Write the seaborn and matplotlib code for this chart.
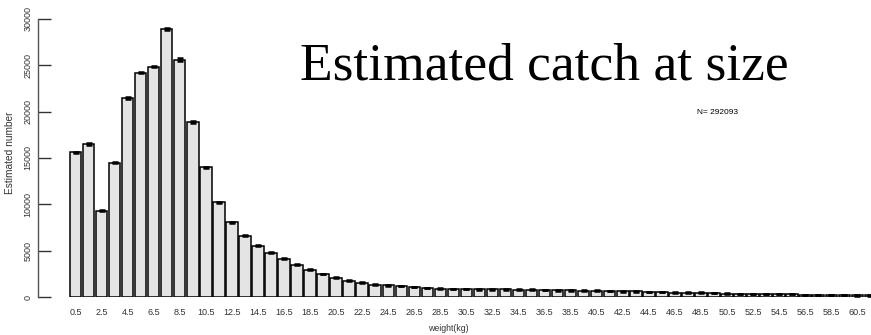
import numpy as np
import pandas as pd
import matplotlib
from matplotlib import pyplot as plt
import seaborn as sns

# bin midpoints (kg) and estimated numbers
weights = [0.5 + i for i in range(62)]
counts = [15600, 16500, 9300, 14500, 21450, 24200, 24850, 28900, 25600, 18900,
          14000, 10200, 8050, 6620, 5550, 4800, 4150, 3500, 2950, 2480,
          2080, 1760, 1540, 1330, 1270, 1190, 1090, 980, 900, 880,
          880, 830, 830, 820, 800, 800, 760, 730, 720, 700,
          700, 650, 600, 600, 560, 530, 480, 470, 460, 420,
          360, 350, 350, 320, 310, 290, 220, 210, 210, 200,
          180, 170]
se = [80, 70, 70, 70, 80, 80, 80, 80, 180, 80,
      80, 80, 70, 60, 60, 50, 50, 50, 50, 50,
      40, 40, 40, 40, 40, 40, 30, 30, 30, 30,
      30, 30, 30, 30, 30, 30, 30, 30, 30, 30,
      30, 30, 30, 30, 30, 30, 30, 30, 30, 30,
      20, 20, 20, 20, 20, 20, 20, 20, 20, 20,
      20, 20]
n_total = 292093

df = pd.DataFrame({'weight': [f'{w:.1f}' for w in weights], 'n': counts})

matplotlib.rcParams['font.family'] = 'Liberation Sans'

fig = plt.figure(figsize=(8.71, 3.35), dpi=100)
W, H = 871, 335
ax = fig.add_axes([38 / W, 1 - 297 / H, (W - 38) / W, (297 - 19) / H])

sns.barplot(data=df, x='weight', y='n', color='#e4e4e4', saturation=1,
            edgecolor='black', linewidth=1.1, width=0.88, errorbar=None, ax=ax)
ax.errorbar(np.arange(len(counts)), counts, yerr=se, fmt='none', ecolor='black',
            elinewidth=1.2, capsize=2.2, capthick=1.8)

ax.set_ylim(0, 30000)
ax.set_xlim(-2.88, 61.05)
ax.set_yticks([0, 5000, 10000, 15000, 20000, 25000, 30000])
ax.set_yticklabels(['0', '5000', '10000', '15000', '20000', '25000', '30000'],
                   rotation=90, va='center', fontsize=6.5)
ax.set_xticks(np.arange(0, 62, 2))
ax.set_xticklabels([f'{w:.1f}' for w in weights[::2]], fontsize=6.5)
ax.tick_params(axis='y', direction='in', length=9, width=1, pad=4, colors='#333333')
ax.tick_params(axis='x', length=0, pad=8, colors='#333333')

for s in ['top', 'right', 'bottom']:
    ax.spines[s].set_visible(False)
ax.spines['left'].set_linewidth(1)
ax.spines['left'].set_color('#555555')

ax.set_xlabel('weight(kg)', fontsize=6.3, color='#333333')
ax.xaxis.set_label_coords((448 - 38) / (W - 38), -(324 - 297) / (297 - 19))
ax.set_ylabel('Estimated number', fontsize=7.3, color='#333333')
ax.yaxis.set_label_coords(-(38 - 15) / (W - 38), 0.52)

fig.text(300 / W, 1 - 80 / H, 'Estimated catch at size', family='Liberation Serif',
         fontsize=38.5, va='baseline', ha='left')
fig.text(697 / W, 1 - 113 / H, f'N= {n_total}', fontsize=6, va='center', ha='left')

plt.savefig('out.png', dpi=100)
